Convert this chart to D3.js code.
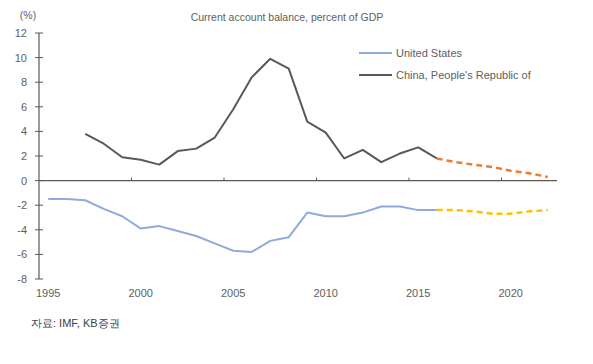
<!DOCTYPE html>
<html>
<head>
<meta charset="utf-8">
<script src="https://cdn.jsdelivr.net/npm/d3@7"></script>
<style>
  body { margin: 0; background: #fff; }
  text { font-family: "Liberation Sans", Arial, sans-serif; fill: #606060; }
</style>
</head>
<body>
<div id="chart"></div>
<script>
// data
var usYears = [1995,1996,1997,1998,1999,2000,2001,2002,2003,2004,2005,2006,2007,2008,2009,2010,2011,2012,2013,2014,2015,2016];
var usValues = [-1.5,-1.5,-1.6,-2.3,-2.9,-3.9,-3.7,-4.1,-4.5,-5.1,-5.7,-5.8,-4.9,-4.6,-2.6,-2.9,-2.9,-2.6,-2.1,-2.1,-2.4,-2.4];
var usFcYears = [2016,2017,2018,2019,2020,2021,2022];
var usFcValues = [-2.4,-2.4,-2.5,-2.7,-2.7,-2.5,-2.4];

var cnYears = [1997,1998,1999,2000,2001,2002,2003,2004,2005,2006,2007,2008,2009,2010,2011,2012,2013,2014,2015,2016];
var cnValues = [3.8,3.0,1.9,1.7,1.3,2.4,2.6,3.5,5.8,8.4,9.9,9.1,4.8,3.9,1.8,2.5,1.5,2.2,2.7,1.8];
var cnFcYears = [2016,2017,2018,2019,2020,2021,2022];
var cnFcValues = [1.8,1.5,1.3,1.1,0.8,0.6,0.3];

var yTicks = [-8,-6,-4,-2,0,2,4,6,8,10,12];
var xLabels = [1995,2000,2005,2010,2015,2020];
var legendNames = ["United States", "China, People's Republic of"];

var svg = d3.select("#chart")
  .append("svg")
  .attr("width", 593)
  .attr("height", 364);

// category axis: each year sits in the middle of its slot
var x = d3.scaleLinear().domain([1994.5, 2022.5]).range([39, 557]);
var y = d3.scaleLinear().domain([-8, 12]).range([279, 33]);

// title and unit
svg.append("text")
  .attr("x", 287).attr("y", 21)
  .attr("text-anchor", "middle")
  .attr("font-size", "10.5px")
  .text("Current account balance, percent of GDP");

svg.append("text")
  .attr("x", 28).attr("y", 19)
  .attr("text-anchor", "middle")
  .attr("font-size", "10.5px")
  .text("(%)");

// y axis
svg.append("line")
  .attr("x1", x(1994.5)).attr("x2", x(1994.5))
  .attr("y1", y(12)).attr("y2", y(-8))
  .style("stroke", "#595959").style("stroke-width", 1.2);

yTicks.forEach(function(t) {
  svg.append("line")
    .attr("x1", x(1994.5) - 4).attr("x2", x(1994.5) + 4)
    .attr("y1", y(t)).attr("y2", y(t))
    .style("stroke", "#595959").style("stroke-width", 1);
  svg.append("text")
    .attr("x", 27).attr("y", y(t) + 4)
    .attr("text-anchor", "end")
    .attr("font-size", "11px")
    .text(t);
});

// zero line with ticks between categories
svg.append("line")
  .attr("x1", x(1994.5)).attr("x2", x(2022.5))
  .attr("y1", y(0)).attr("y2", y(0))
  .style("stroke", "#595959").style("stroke-width", 1.2);

[1999.5, 2004.5, 2009.5, 2014.5, 2019.5].forEach(function(t) {
  svg.append("line")
    .attr("x1", x(t)).attr("x2", x(t))
    .attr("y1", y(0) - 3).attr("y2", y(0))
    .style("stroke", "#595959").style("stroke-width", 1);
});

xLabels.forEach(function(t) {
  svg.append("text")
    .attr("x", x(t)).attr("y", 297)
    .attr("text-anchor", "middle")
    .attr("font-size", "11px")
    .text(t);
});

// lines
var line = d3.line()
  .x(function(d) { return x(d[0]); })
  .y(function(d) { return y(d[1]); });

function drawLine(years, values, color, dash) {
  svg.append("path")
    .datum(d3.zip(years, values))
    .attr("d", line)
    .style("fill", "none")
    .style("stroke", color)
    .style("stroke-width", dash ? 2.5 : 2)
    .style("stroke-dasharray", dash ? "6,4" : null)
    .style("stroke-linejoin", "round");
}

drawLine(cnYears, cnValues, "#595959", false);
drawLine(usYears, usValues, "#8faadc", false);
drawLine(cnFcYears, cnFcValues, "#ed7d31", true);
drawLine(usFcYears, usFcValues, "#ffc000", true);

// legend
var legendColors = ["#8faadc", "#595959"];
legendNames.forEach(function(name, i) {
  var ly = 53 + i * 22;
  svg.append("line")
    .attr("x1", 359).attr("x2", 392)
    .attr("y1", ly).attr("y2", ly)
    .style("stroke", legendColors[i]).style("stroke-width", 2);
  svg.append("text")
    .attr("x", 396).attr("y", ly + 4)
    .attr("font-size", "11px")
    .text(name);
});

// source note
svg.append("text")
  .attr("x", 31).attr("y", 327)
  .attr("font-size", "11px")
  .style("fill", "#404040")
  .text("자료: IMF, KB증권");
</script>
</body>
</html>
